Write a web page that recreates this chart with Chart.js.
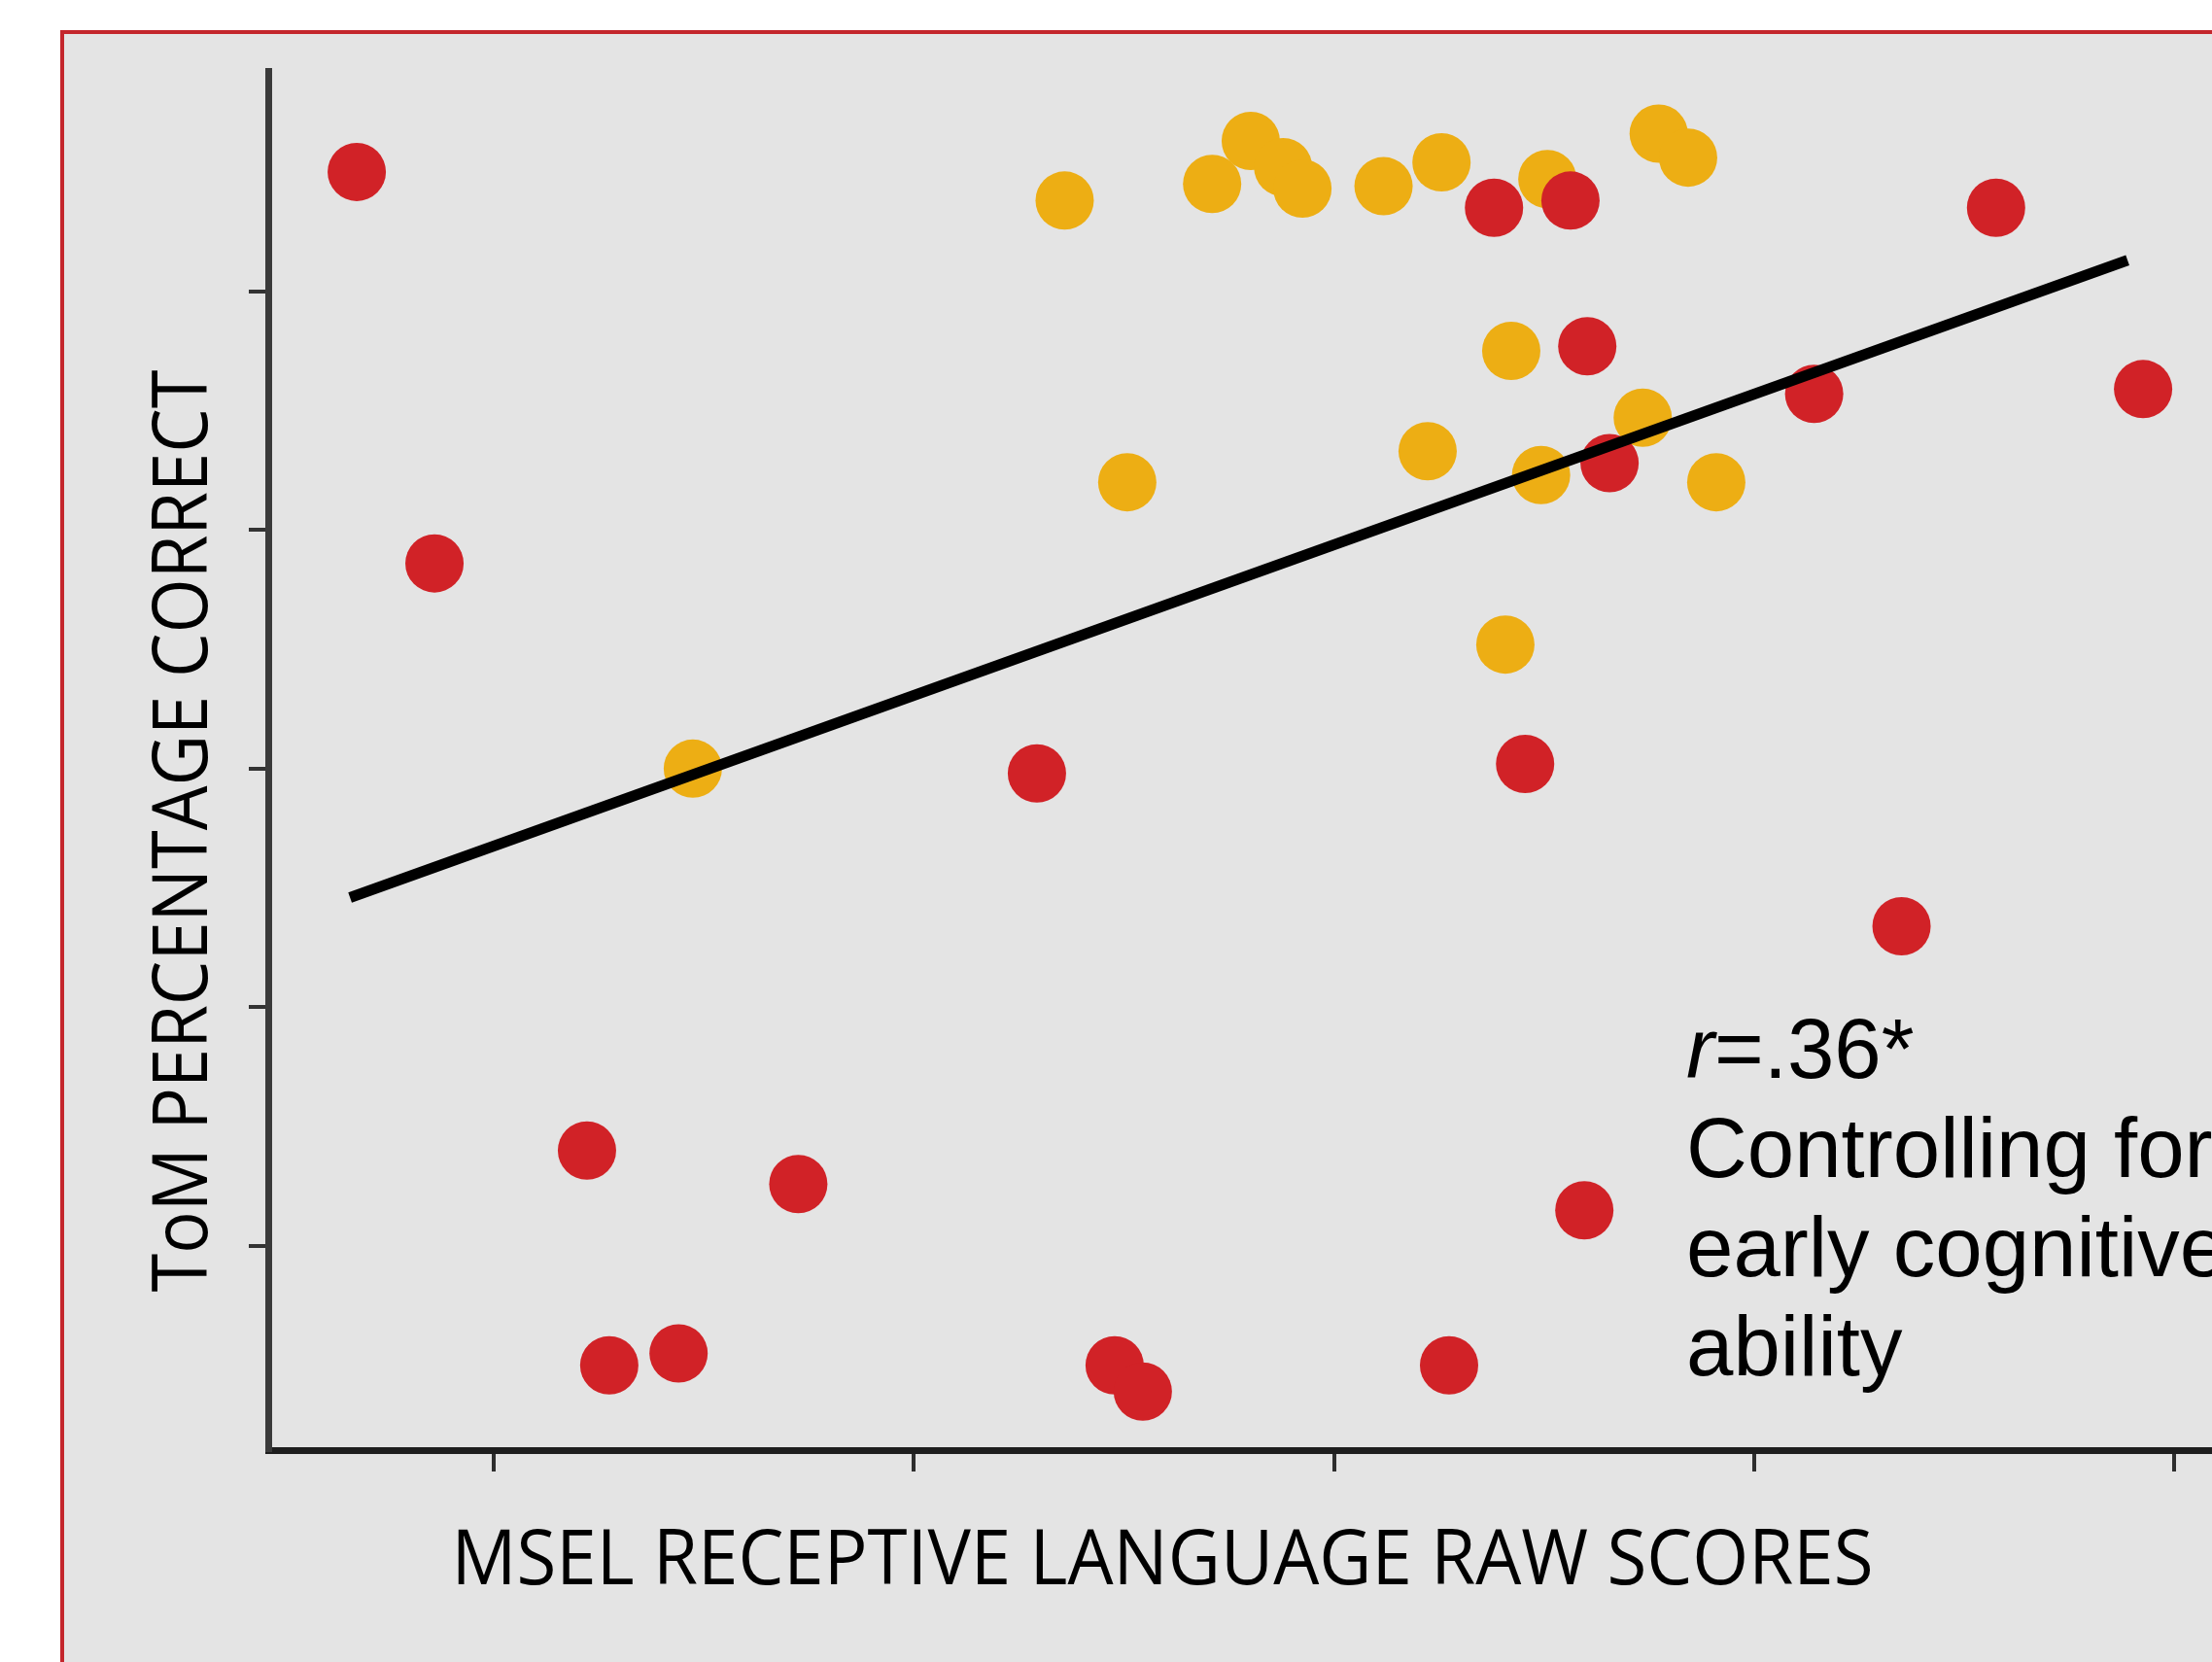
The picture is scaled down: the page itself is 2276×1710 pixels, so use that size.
<!DOCTYPE html>
<html>
<head>
<meta charset="utf-8">
<script src="https://cdn.jsdelivr.net/npm/chart.js@4"></script>
<style>
	html, body { margin: 0; padding: 0; background: #fff; overflow: hidden; }
	#panel {
		position: absolute; left: 62px; top: 31px; width: 2400px; height: 1800px;
		background: #e4e4e4; border: 4px solid #c4262c;
	}
	#chart { position: absolute; left: 0; top: 0; }
</style>
</head>
<body>
<div id="panel"></div>
<canvas id="chart" width="2276" height="1710"></canvas>
<script>
// MSEL receptive language raw scores (x) vs ToM score (y), two groups
const redX = [6.74, 8.59, 12.22, 12.75, 14.40, 17.25, 22.93, 24.78, 25.45, 32.74, 33.81, 35.63, 34.55, 36.03, 36.56, 35.96, 41.43, 43.51, 45.76, 49.26];
const redY = [5.50, 3.86, 1.40, 0.50, 0.55, 1.26, 2.98, 0.50, 0.39, 0.50, 5.35, 5.38, 3.02, 4.77, 4.28, 1.15, 4.57, 2.34, 5.35, 4.59];
const yellowX = [14.74, 23.59, 25.08, 27.10, 28.02, 28.79, 29.25, 31.18, 32.56, 34.08, 34.22, 32.23, 34.93, 35.08, 37.35, 37.73, 38.43, 39.10];
const yellowY = [3.00, 5.38, 4.20, 5.45, 5.63, 5.52, 5.43, 5.44, 5.54, 3.52, 4.75, 4.33, 4.23, 5.47, 4.47, 5.66, 5.56, 4.20];
// fitted regression line end points
const trendX = [6.58, 48.89];
const trendY = [2.46, 5.13];
const xTicks = [10, 20, 30, 40, 50];
const yTicks = [1, 2, 3, 4, 5];

const xTitle = 'MSEL RECEPTIVE LANGUAGE RAW SCORES';
const yTitle = 'ToM PERCENTAGE CORRECT';
const noteLines = ['r=.36*', 'Controlling for', 'early cognitive', 'ability'];

function toPoints(xs, ys) {
	return xs.map((x, i) => ({ x: x, y: ys[i] }));
}

// draw text squeezed/stretched to a given width
function fitText(ctx, text, cx, cy, width, angle) {
	ctx.save();
	ctx.translate(cx, cy);
	ctx.rotate(angle || 0);
	const w = ctx.measureText(text).width;
	ctx.scale(width / w, 1);
	ctx.textAlign = 'center';
	ctx.textBaseline = 'alphabetic';
	ctx.fillText(text, 0, 0);
	ctx.restore();
}

const textPlugin = {
	id: 'texts',
	afterDraw(chart) {
		const ctx = chart.ctx;
		ctx.save();
		ctx.fillStyle = '#000';
		ctx.font = '500 78px "Open Sans"';
		fitText(ctx, xTitle, 1196, 1630, 1463);
		fitText(ctx, yTitle, 213, 855, 949, -Math.PI / 2);

		// annotation
		const left = 1735;
		ctx.textAlign = 'left';
		ctx.textBaseline = 'alphabetic';
		ctx.font = 'italic 87px "Liberation Sans"';
		ctx.fillText('r', left, 1109);
		const rw = ctx.measureText('r').width;
		ctx.font = '87px "Liberation Sans"';
		ctx.fillText(noteLines[0].slice(1), left + rw, 1109);
		for (let i = 1; i < noteLines.length; i++) {
			ctx.fillText(noteLines[i], left, 1109 + i * 102);
		}
		ctx.restore();
	},
};

const ctx = document.getElementById('chart').getContext('2d');
new Chart(ctx, {
	type: 'scatter',
	data: {
		datasets: [
			{
				data: toPoints(trendX, trendY),
				showLine: true,
				borderColor: '#000',
				borderWidth: 11,
				pointRadius: 0,
				borderCapStyle: 'butt',
			},
			{
				data: toPoints(redX, redY),
				backgroundColor: '#d12227',
				borderWidth: 0,
				pointRadius: 30,
			},
			{
				data: toPoints(yellowX, yellowY),
				backgroundColor: '#edae14',
				borderWidth: 0,
				pointRadius: 30,
			},
		],
	},
	options: {
		responsive: false,
		animation: false,
		devicePixelRatio: 1,
		layout: { autoPadding: false, padding: { top: 73, left: 0, right: 0, bottom: 0 } },
		plugins: {
			legend: { display: false },
			tooltip: { enabled: false },
		},
		scales: {
			x: {
				type: 'linear',
				min: 4.633,
				max: 50.9,
				afterBuildTicks: (s) => { s.ticks = xTicks.map((v) => ({ value: v })); },
				afterFit: (s) => { s.height = 218; },
				ticks: { display: false },
				grid: { drawOnChartArea: false, drawTicks: true, tickLength: 22, color: '#2e2e2e', lineWidth: 4 },
				border: { display: true, color: '#1e1e1e', width: 7 },
			},
			y: {
				type: 'linear',
				min: 0.145,
				max: 5.923,
				afterBuildTicks: (s) => { s.ticks = yTicks.map((v) => ({ value: v })); },
				afterFit: (s) => { s.width = 276; },
				ticks: { display: false },
				grid: { drawOnChartArea: false, drawTicks: true, tickLength: 20, color: '#333', lineWidth: 4 },
				border: { display: true, color: '#3a3a3a', width: 7 },
			},
		},
	},
	plugins: [textPlugin],
});
</script>
</body>
</html>
